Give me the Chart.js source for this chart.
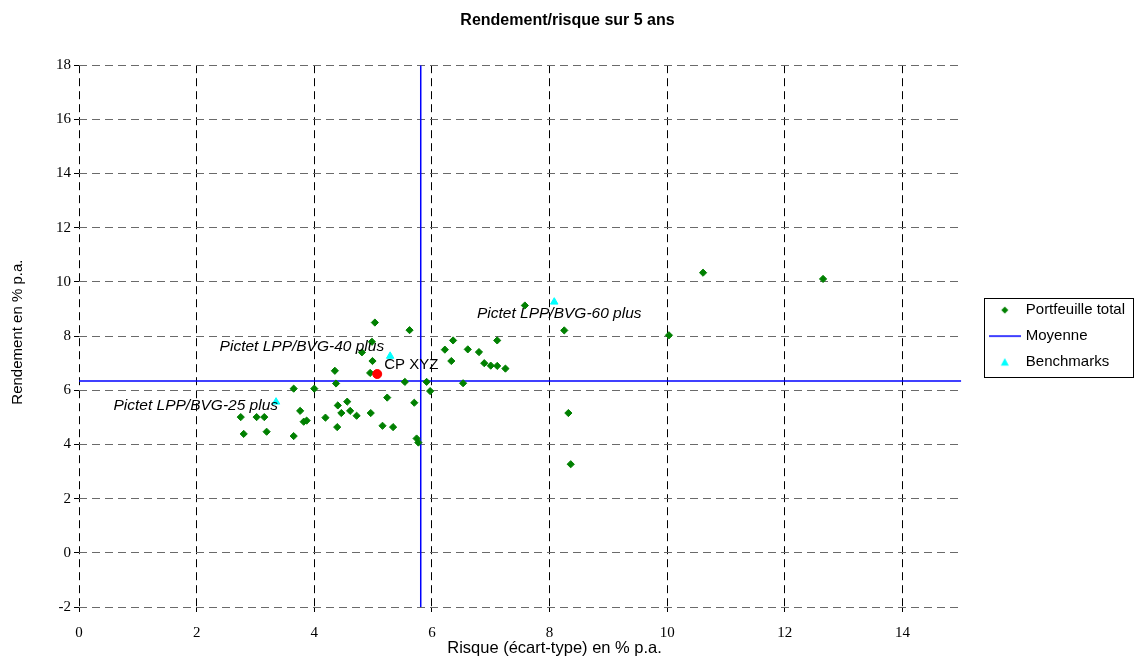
<!DOCTYPE html>
<html><head><meta charset="utf-8">
<script src="https://cdn.jsdelivr.net/npm/chart.js@4.4.0/dist/chart.umd.min.js"></script>
<style>html,body{margin:0;padding:0;background:#fff;}</style>
</head><body>
<canvas id="c" width="1135" height="657"></canvas>
<script>
// ---- data ----
const chartTitle = 'Rendement/risque sur 5 ans';
const xAxisTitle = 'Risque (écart-type) en % p.a.';
const yAxisTitle = 'Rendement en % p.a.';
const seriesNames = ['Portfeuille total', 'Moyenne', 'Benchmarks'];
const xTicks = [0, 2, 4, 6, 8, 10, 12, 14];
const yTicks = [-2, 0, 2, 4, 6, 8, 10, 12, 14, 16, 18];
const xRange = [0, 15];
const yRange = [-2, 18];

const portfolioRisk = [2.75, 3.02, 3.15, 2.80, 3.19, 3.65, 3.65, 4.00, 4.37, 4.35,
  3.76, 3.82, 3.87, 4.19, 4.40, 4.56, 4.46, 4.61, 4.39, 5.03,
  5.62, 4.98, 4.81, 4.99, 4.95, 5.54, 5.91, 5.97, 6.53, 6.22,
  6.36, 6.33, 4.72, 4.96, 5.24, 5.70, 5.16, 5.34, 5.74, 5.77,
  7.11, 6.61, 6.80, 6.89, 7.00, 7.11, 7.25, 7.58, 8.25, 8.32,
  8.36, 10.61, 12.65, 10.03];
const portfolioReturn = [5.01, 5.01, 5.01, 4.39, 4.47, 4.31, 6.06, 6.06, 6.25, 6.72,
  5.24, 4.84, 4.88, 4.99, 5.44, 5.58, 5.16, 5.24, 4.64, 8.50,
  8.22, 7.79, 7.40, 7.08, 6.64, 6.31, 6.31, 5.97, 6.26, 7.50,
  7.84, 7.08, 5.06, 5.16, 5.73, 5.54, 4.69, 4.64, 4.22, 4.07,
  7.84, 7.51, 7.41, 7.00, 6.91, 6.90, 6.80, 9.13, 8.21, 5.16,
  3.27, 10.34, 10.11, 8.03];

const benchmarkLabels = ['Pictet LPP/BVG-25 plus', 'Pictet LPP/BVG-40 plus', 'Pictet LPP/BVG-60 plus'];
const benchmarkRisk = [3.35, 5.29, 8.08];
const benchmarkReturn = [5.57, 7.26, 9.26];

const fundLabel = 'CP XYZ';
const fundRisk = [5.07];
const fundReturn = [6.60];

const meanRisk = 5.81;
const meanReturn = 6.34;

// ---- build ----
const toXY = (xs, ys) => xs.map((x, i) => ({x: x, y: ys[i]}));
const SANS = 'Liberation Sans, Arial, sans-serif';
const SERIF = 'Liberation Serif, Times New Roman, serif';
const GREEN = '#008000', BLUE = '#0000FF', CYAN = '#00FFFF', RED = '#FF0000';

// legend marker images
function legendMarker(kind) {
  const c = document.createElement('canvas');
  c.width = 32; c.height = 10;
  const g = c.getContext('2d');
  if (kind === 'diamond') {
    g.fillStyle = GREEN;
    g.beginPath(); g.moveTo(16, 1.5); g.lineTo(19.5, 5); g.lineTo(16, 8.5); g.lineTo(12.5, 5); g.closePath(); g.fill();
  } else if (kind === 'line') {
    g.strokeStyle = BLUE; g.lineWidth = 1.5;
    g.beginPath(); g.moveTo(0, 5); g.lineTo(32, 5); g.stroke();
  } else {
    g.fillStyle = CYAN;
    g.beginPath(); g.moveTo(16, 1); g.lineTo(20, 8.5); g.lineTo(12, 8.5); g.closePath(); g.fill();
  }
  return c;
}
const legendMarkers = [legendMarker('diamond'), legendMarker('line'), null, legendMarker('triangle')];

// label placement styles for benchmark/fund annotations
const benchLabelStyle = [
  {align: 'right', dx: 2, dy: 4},
  {align: 'right', dx: -6, dy: -9},
  {align: 'center', dx: 5, dy: 12}
];

const annotate = {
  id: 'annotate',
  afterDatasetsDraw(chart) {
    const ctx = chart.ctx;
    ctx.save();
    ctx.fillStyle = '#000';
    ctx.textBaseline = 'middle';
    const bm = chart.getDatasetMeta(3);
    bm.data.forEach((pt, i) => {
      const st = benchLabelStyle[i];
      ctx.font = 'italic 15.5px ' + SANS;
      ctx.textAlign = st.align;
      ctx.fillText(benchmarkLabels[i], pt.x + st.dx, pt.y + st.dy);
    });
    const fm = chart.getDatasetMeta(4);
    fm.data.forEach((pt) => {
      ctx.font = '15px ' + SANS;
      ctx.textAlign = 'left';
      ctx.fillText(fundLabel, pt.x + 7, pt.y - 9);
    });
    ctx.restore();
  },
  afterDraw(chart) {
    const ctx = chart.ctx;
    const ca = chart.chartArea;
    ctx.save();
    ctx.fillStyle = '#000';
    ctx.textAlign = 'center';
    ctx.textBaseline = 'middle';
    ctx.font = '16.5px ' + SANS;
    ctx.fillText(xAxisTitle, ca.left + (ca.right - ca.left) * 0.539, 648);
    ctx.font = '15px ' + SANS;
    ctx.translate(18, (ca.top + ca.bottom) / 2 - 4);
    ctx.rotate(-Math.PI / 2);
    ctx.fillText(yAxisTitle, 0, 0);
    ctx.restore();
    // legend frame
    const lg = chart.legend;
    if (lg && lg.legendHitBoxes && lg.legendHitBoxes.length) {
      let l = Infinity, t = Infinity, b = -Infinity;
      lg.legendHitBoxes.forEach(h => {
        l = Math.min(l, h.left); t = Math.min(t, h.top);
        b = Math.max(b, h.top + h.height);
      });
      const L = Math.round(l - 7), T = Math.round(t - 5), R = chart.width - 1, B = Math.round(b + 7);
      ctx.save();
      ctx.strokeStyle = '#000';
      ctx.lineWidth = 1;
      ctx.strokeRect(L + 0.5, T + 0.5, R - L - 1, B - T);
      ctx.restore();
    }
  }
};

const gridDash = [8, 5];

new Chart(document.getElementById('c'), {
  type: 'scatter',
  data: {
    datasets: [
      {
        label: seriesNames[0],
        data: toXY(portfolioRisk, portfolioReturn),
        pointStyle: 'rectRot',
        pointRadius: 3.6,
        pointHoverRadius: 3.6,
        backgroundColor: GREEN,
        borderColor: GREEN,
        borderWidth: 1,
        order: 2
      },
      {
        label: seriesNames[1],
        type: 'line',
        data: [{x: xRange[0], y: meanReturn}, {x: xRange[1], y: meanReturn}],
        borderColor: BLUE,
        backgroundColor: BLUE,
        borderWidth: 1.5,
        pointRadius: 0,
        pointStyle: 'line',
        fill: false,
        order: 3
      },
      {
        label: '',
        type: 'line',
        data: [{x: meanRisk, y: yRange[0]}, {x: meanRisk, y: yRange[1]}],
        borderColor: BLUE,
        backgroundColor: BLUE,
        borderWidth: 1.5,
        pointRadius: 0,
        pointStyle: 'line',
        fill: false,
        order: 3
      },
      {
        label: seriesNames[2],
        data: toXY(benchmarkRisk, benchmarkReturn),
        pointStyle: 'triangle',
        pointRadius: 4.3,
        backgroundColor: CYAN,
        borderColor: CYAN,
        borderWidth: 1,
        order: 1
      },
      {
        label: '',
        data: toXY(fundRisk, fundReturn),
        pointStyle: 'circle',
        pointRadius: 4.5,
        backgroundColor: RED,
        borderColor: RED,
        borderWidth: 1,
        order: 0
      }
    ]
  },
  options: {
    responsive: false,
    animation: false,
    layout: {padding: {left: 0, right: 0, top: 0, bottom: 0}},
    plugins: {
      title: {
        display: true,
        text: chartTitle,
        color: '#000',
        font: {family: SANS, size: 16, weight: 'bold'},
        padding: {top: 11, bottom: 35}
      },
      legend: {
        display: true,
        position: 'right',
        fullSize: false,
        labels: {
          usePointStyle: true,
          pointStyleWidth: 27,
          boxHeight: 8,
          padding: 11,
          color: '#000',
          font: {family: SANS, size: 15},
          generateLabels: (chart) => {
            const items = Chart.defaults.plugins.legend.labels.generateLabels(chart);
            return items
              .filter(it => !!it.text)
              .sort((a, b) => a.datasetIndex - b.datasetIndex)
              .map(it => Object.assign(it, {pointStyle: legendMarkers[it.datasetIndex], rotation: 0}));
          }
        }
      },
      tooltip: {enabled: false}
    },
    scales: {
      x: {
        type: 'linear',
        min: xRange[0],
        max: xRange[1],
        afterBuildTicks: (s) => { s.ticks = xTicks.map(v => ({value: v})); },
        afterFit: (s) => { s.height = 50; },
        border: {display: false, dash: gridDash},
        grid: {color: '#000', lineWidth: 1, drawTicks: true, tickLength: 5, tickColor: '#000', tickBorderDash: []},
        ticks: {color: '#000', font: {family: SERIF, size: 15}, padding: 12, maxRotation: 0}
      },
      y: {
        type: 'linear',
        min: yRange[0],
        max: yRange[1],
        afterBuildTicks: (s) => { s.ticks = yTicks.map(v => ({value: v})); },
        afterFit: (s) => { s.width = 79; },
        border: {display: false, dash: gridDash},
        grid: {color: '#6a6a6a', lineWidth: 1, drawTicks: true, tickLength: 5, tickColor: '#000', tickBorderDash: []},
        ticks: {color: '#000', font: {family: SERIF, size: 15}, padding: 3}
      },
      spacer: {
        type: 'linear',
        position: 'right',
        display: true,
        afterFit: (s) => { s.width = 19; },
        border: {display: false},
        grid: {display: false, drawTicks: false},
        ticks: {display: false}
      }
    }
  },
  plugins: [annotate]
});
</script>
</body></html>
